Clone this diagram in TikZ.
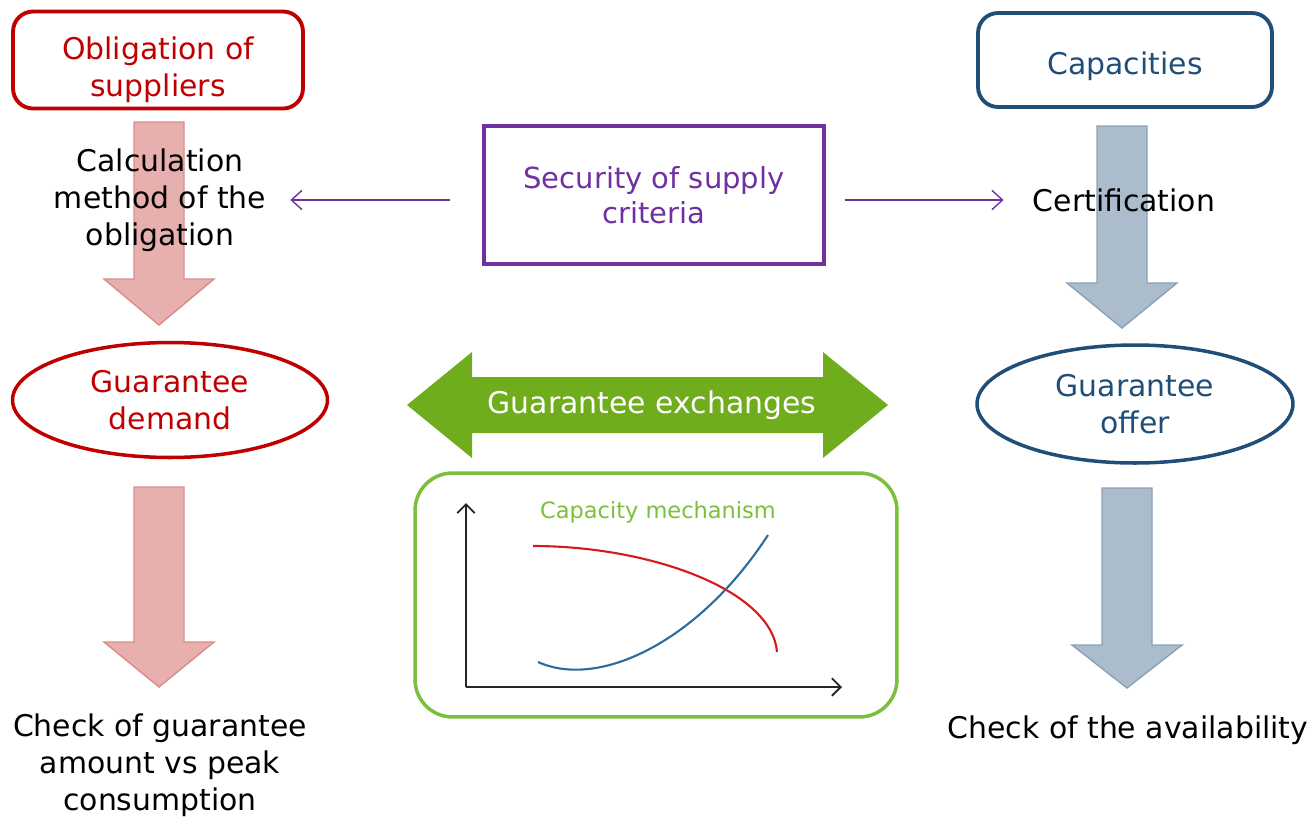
\documentclass[tikz,border=0pt]{standalone}
\usepackage{fontspec}
\setmainfont{DejaVu Sans}
\usepackage{tikz}
\usetikzlibrary{shapes.geometric, positioning, arrows.meta}
\definecolor{oblred}{HTML}{C00000}
\definecolor{capblue}{HTML}{1F4E79}
\definecolor{secpurple}{HTML}{7030A0}
\definecolor{exgreen}{HTML}{6FAD1C}
\definecolor{mechgreen}{HTML}{7CBF3A}
\definecolor{pinkfill}{HTML}{E8AFAF}
\definecolor{pinkedge}{HTML}{D98C8C}
\definecolor{greyfill}{HTML}{ABBDCC}
\definecolor{greyedge}{HTML}{8AA1B5}
\definecolor{curvered}{HTML}{D7191C}
\definecolor{curveblue}{HTML}{2E6A9A}

\begin{document}
\begin{tikzpicture}[x=0.02cm, y=-0.02cm,
  every node/.style={font=\fontsize{17}{21}\selectfont, align=center},
  topbox/.style={draw, rounded corners=0.4cm, line width=2.2pt, minimum width=5.8cm, minimum height=1.88cm},
  oval/.style={ellipse, draw, line width=2pt, minimum width=6.3cm, minimum height=2.3cm, inner sep=0pt},
  plain/.style={inner sep=0pt},
  fatred/.style={fill=pinkfill, draw=pinkedge, line width=0.8pt},
  fatblue/.style={fill=greyfill, draw=greyedge, line width=0.8pt},
  link/.style={-{Straight Barb[length=6pt,width=11pt]}, secpurple, line width=0.8pt},
  axis/.style={-{Straight Barb[length=5pt,width=10pt]}, line width=1.1pt, black!85}]
  \useasboundingbox (0,0) rectangle (1309,816);

  % fat down arrows
  \foreach \cx/\top/\neck/\tip/\sty in {159/122/279/325/fatred, 159/487/642/687/fatred,
      1122/126/283/328/fatblue, 1127/488/645/688/fatblue}
    \draw[\sty] (\cx-25,\top) -- (\cx+25,\top) -- (\cx+25,\neck) -- (\cx+55,\neck)
      -- (\cx,\tip) -- (\cx-55,\neck) -- (\cx-25,\neck) -- cycle;

  \node[topbox, draw=oblred, text=oblred] (obl) at (158,60) {\rule{0pt}{24pt}Obligation of\\suppliers};
  \node[topbox, draw=capblue, text=capblue, minimum width=5.88cm] (cap) at (1125,60) {\rule{0pt}{20pt}Capacities};

  \node[plain] (calc) at (160,200) {Calculation\\method of the\\obligation};
  \node[plain] (cert) at (1124,200) {Certification};

  \node[draw=secpurple, text=secpurple, line width=2pt, minimum width=6.8cm, minimum height=2.76cm,
    font=\fontsize{16.5}{20}\selectfont] (sec) at (654,195) {Security of supply\\criteria};

  \draw[link, shorten <=0.64cm, shorten >=0.48cm] (sec.west |- calc.east) -- (calc.east);
  \draw[link, shorten <=0.38cm, shorten >=0.58cm] (sec.east |- cert.west) -- (cert.west);

  \node[oval, draw=oblred, text=oblred] (dem) at (170,400) {Guarantee\\demand};
  \node[oval, draw=capblue, text=capblue, minimum width=6.32cm, minimum height=2.36cm] (off) at (1135,404) {Guarantee\\offer};

  % exchange arrow
  \fill[exgreen] (407,405) -- (472,352) -- (472,377) -- (823,377) -- (823,352) -- (888,405)
    -- (823,458) -- (823,433) -- (472,433) -- (472,458) -- cycle;
  \node[plain, text=white] (exch) at (652,405) {Guarantee exchanges};

  % capacity mechanism
  \node[draw=mechgreen, line width=2pt, rounded corners=0.75cm, minimum width=9.64cm,
    minimum height=4.88cm] (mech) at (656,595) {};
  \node[plain, text=mechgreen, font=\fontsize{12.8}{15}\selectfont] (mechtitle) at (658,512) {Capacity mechanism};
  \coordinate (orig) at (466,687);
  \coordinate (ytop) at (466,503);
  \coordinate (xend) at (842,687);
  \draw[axis] (orig) -- (ytop);
  \draw[axis] (orig) -- (xend);
  \draw[curvered, line width=1.2pt] (533,546) .. controls (650,546) and (772,590) .. (777,652);
  \draw[curveblue, line width=1.2pt] (538,662) .. controls (600,690) and (700,640) .. (768,535);

  \node[plain] (chkdem) at (160,765) {Check of guarantee\\amount vs peak\\consumption};
  \node[plain] (chkoff) at (1128,730) {Check of the availability};
\end{tikzpicture}
\end{document}
